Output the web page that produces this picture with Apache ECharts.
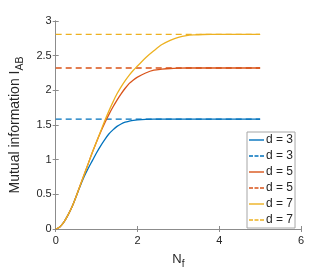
<!DOCTYPE html>
<html>
<head>
<meta charset="utf-8">
<script src="https://cdn.jsdelivr.net/npm/echarts@6/dist/echarts.min.js"></script>
<style>html,body{margin:0;padding:0;background:#fff}#c{width:332px;height:275px}</style>
</head>
<body>
<div id="c"></div>
<script>
// Data
const xs = [0,0.1,0.2,0.3,0.4,0.5,0.6,0.7,0.8,0.9,1.0,1.1,1.2,1.3,1.4,1.5,1.6,1.7,1.8,1.9,2.0,2.2,2.4,2.6,2.8,3.0,3.2,3.4,3.6,3.8,4.0,4.5,5.0];
const i3 = [0,0.03,0.10,0.20,0.32,0.47,0.62,0.76,0.88,0.99,1.10,1.20,1.29,1.37,1.43,1.48,1.515,1.54,1.555,1.567,1.574,1.581,1.584,1.585,1.585,1.585,1.585,1.585,1.585,1.585,1.585,1.585,1.585];
const i5 = [0,0.03,0.10,0.20,0.32,0.47,0.63,0.79,0.95,1.11,1.26,1.40,1.53,1.65,1.76,1.86,1.95,2.03,2.10,2.15,2.19,2.25,2.29,2.305,2.315,2.32,2.322,2.322,2.322,2.322,2.322,2.322,2.322];
const i7 = [0,0.03,0.10,0.20,0.32,0.47,0.63,0.79,0.95,1.11,1.26,1.41,1.56,1.70,1.83,1.95,2.05,2.14,2.22,2.29,2.35,2.47,2.57,2.66,2.72,2.765,2.79,2.80,2.805,2.807,2.807,2.807,2.807];
const limits = [1.585, 2.322, 2.807];
const limitRange = [0, 5];
const dims = ['d = 3', 'd = 5', 'd = 7'];
const colors = ['#0072BD', '#D95319', '#EDB120'];
const xTicks = ['0','2','4','6'];
const yTicks = ['0','0.5','1','1.5','2','2.5','3'];

const solidIcon = 'path://M0,0h15v1.4h-15z';
const dashIcon = 'path://M0,0h4v1.4h-4zM5.5,0h4v1.4h-4zM11,0h4v1.4h-4z';

const curves = [i3, i5, i7];
const series = [];
const legendData = [];
curves.forEach((vals, k) => {
  series.push({
    name: dims[k], type: 'line', data: xs.map((x, j) => [x, vals[j]]),
    smooth: 0.3, symbol: 'none', lineStyle: {color: colors[k], width: 1.3}, itemStyle: {color: colors[k]}
  });
  legendData.push({name: dims[k], icon: solidIcon});
  series.push({
    name: dims[k] + ' ', type: 'line', data: limitRange.map(x => [x, limits[k]]),
    symbol: 'none', lineStyle: {color: colors[k], width: 1.3, type: [6, 4]}, itemStyle: {color: colors[k]}
  });
  legendData.push({name: dims[k] + ' ', icon: dashIcon});
});

const axisCol = '#8c8c8c', txtCol = '#262626', font = 'Liberation Sans, Arial, sans-serif';
const chart = echarts.init(document.getElementById('c'), null, {renderer: 'canvas'});
chart.setOption({
  animation: false,
  grid: {left: 49, right: 31, top: 21, bottom: 46},
  legend: {
    orient: 'vertical', left: 247, top: 132,
    data: legendData,
    backgroundColor: '#fff', borderColor: '#a6a6a6', borderWidth: 1,
    padding: [2, 2, 2, 2], itemWidth: 15, itemHeight: 1.4, itemGap: 4,
    textStyle: {fontSize: 12, lineHeight: 11.5, color: txtCol, fontFamily: font, padding: [0, 0, 0, -3]},
    formatter: n => n.trim()
  },
  xAxis: [{
    type: 'value', min: 0, max: 6, interval: 2, position: 'bottom',
    name: '{a|N}{b|f}', nameLocation: 'middle', nameGap: 20,
    nameTextStyle: {rich: {a: {fontSize: 13, color: txtCol, fontFamily: font}, b: {fontSize: 10, color: txtCol, fontFamily: font, padding: [10, 0, 0, 0]}}},
    axisLine: {show: true, lineStyle: {color: axisCol, width: 1}},
    axisTick: {inside: true, length: 3, lineStyle: {color: axisCol}},
    axisLabel: {margin: 6, fontSize: 11, color: txtCol, fontFamily: font, formatter: v => xTicks[Math.round(v / 2)]},
    splitLine: {show: false}
  }, {
    type: 'value', min: 0, max: 6, interval: 2, position: 'top',
    axisLine: {show: true, lineStyle: {color: axisCol, width: 1}},
    axisTick: {inside: true, length: 3, lineStyle: {color: axisCol}},
    axisLabel: {show: false}, splitLine: {show: false}
  }],
  yAxis: [{
    type: 'value', min: 0, max: 3, interval: 0.5, position: 'left',
    name: '{a|Mutual information I}{b|AB}', nameLocation: 'middle', nameGap: 30,
    nameTextStyle: {rich: {a: {fontSize: 14, color: txtCol, fontFamily: font}, b: {fontSize: 10.5, color: txtCol, fontFamily: font, padding: [10, 0, 0, 0]}}},
    axisLine: {show: true, lineStyle: {color: axisCol, width: 1}},
    axisTick: {inside: true, length: 3, lineStyle: {color: axisCol}},
    axisLabel: {margin: 4, fontSize: 11, color: txtCol, fontFamily: font, formatter: v => yTicks[Math.round(v * 2)]},
    splitLine: {show: false}
  }, {
    type: 'value', min: 0, max: 3, interval: 0.5, position: 'right',
    axisLine: {show: true, lineStyle: {color: axisCol, width: 1}},
    axisTick: {inside: true, length: 3, lineStyle: {color: axisCol}},
    axisLabel: {show: false}, splitLine: {show: false}
  }],
  series: series
});
</script>
</body>
</html>
